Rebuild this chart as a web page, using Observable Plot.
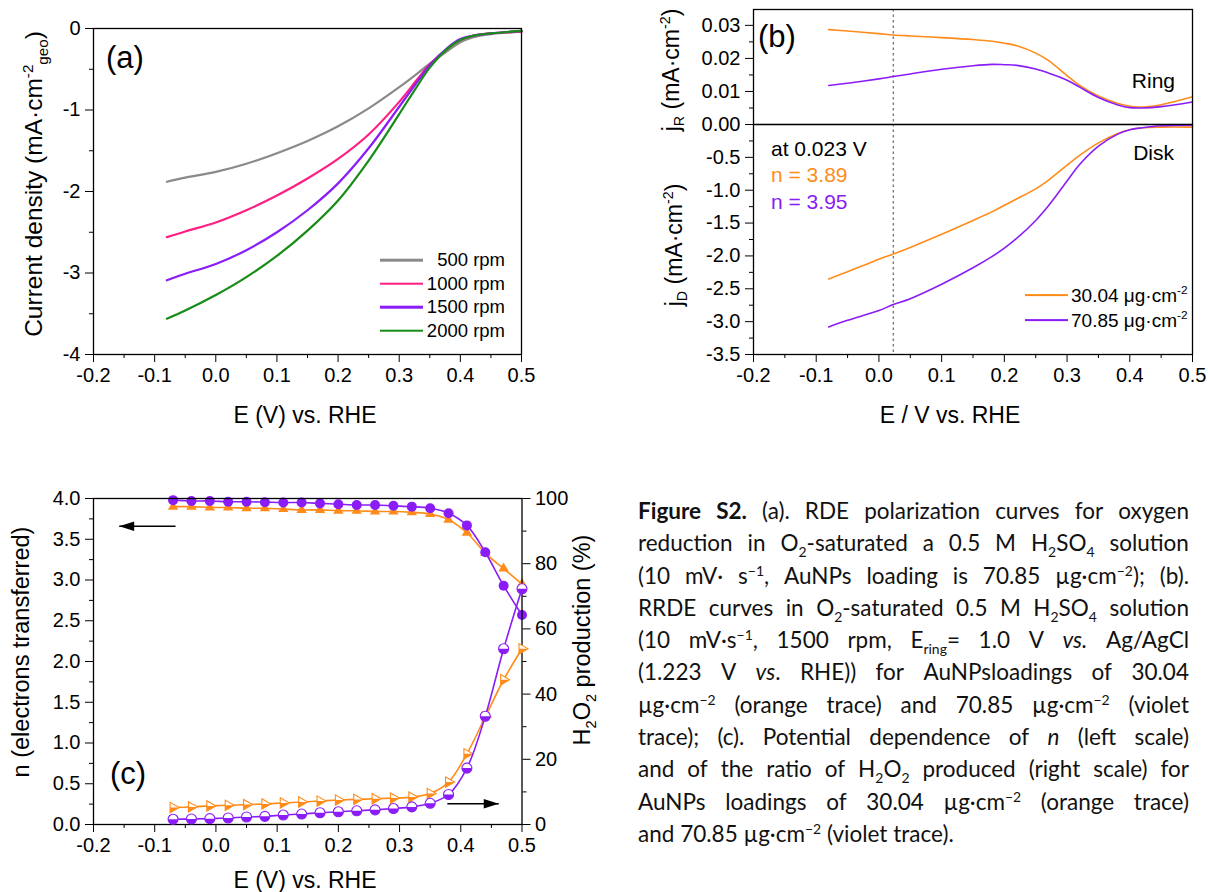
<!DOCTYPE html>
<html><head><meta charset="utf-8">
<script src="https://cdn.jsdelivr.net/npm/d3@7"></script>
<script src="https://cdn.jsdelivr.net/npm/@observablehq/plot@0.6"></script>
<style>
body{margin:0;background:#fff;}
#fig{position:relative;width:1208px;height:892px;overflow:hidden;font-family:"Liberation Sans",Arial,sans-serif;color:#000;}
#fig svg{position:absolute;overflow:visible;}
.abs{position:absolute;white-space:nowrap;line-height:1;}
.rot{transform:translate(-50%,-50%) rotate(-90deg);}
.ctr{transform:translate(-50%,-50%);}
.lc{transform:translate(0,-50%);}
.rc{transform:translate(-100%,-50%);}
#fig sup,#fig sub{font-size:0.62em;line-height:0;}
.cap{position:absolute;left:638px;top:495px;width:551px;font-family:Lato,"Open Sans",sans-serif;font-size:22.5px;color:#111;}
.cl{display:flex;justify-content:space-between;height:32.3px;line-height:32.3px;white-space:nowrap;}
.cl.last{justify-content:flex-start;}
.cl.last span{margin-right:0.26em;}
.cap sup,.cap sub{font-size:0.65em;line-height:0;}
</style></head>
<body><div id="fig"></div>
<script>
// ---------- data: panel (a) RDE curves, 70.85 µg/cm2 ----------
const E_A = [-0.08,-0.05,0,0.05,0.1,0.15,0.2,0.25,0.3,0.33,0.35,0.38,0.4,0.42,0.45,0.5];
const rpm500  = [-1.88,-1.83,-1.76,-1.66,-1.53,-1.38,-1.20,-0.98,-0.72,-0.55,-0.43,-0.27,-0.17,-0.11,-0.07,-0.04];
const rpm1000 = [-2.56,-2.49,-2.38,-2.23,-2.05,-1.84,-1.60,-1.30,-0.90,-0.62,-0.44,-0.24,-0.14,-0.09,-0.06,-0.04];
const rpm1500 = [-3.09,-3.01,-2.89,-2.72,-2.50,-2.23,-1.90,-1.47,-0.96,-0.65,-0.45,-0.23,-0.13,-0.09,-0.06,-0.03];
const rpm2000 = [-3.56,-3.46,-3.27,-3.05,-2.79,-2.48,-2.11,-1.62,-1.05,-0.70,-0.48,-0.24,-0.14,-0.09,-0.06,-0.03];
const seriesA = ["500 rpm","1000 rpm","1500 rpm","2000 rpm"];
const xTicks = [-0.2,-0.1,0,0.1,0.2,0.3,0.4,0.5];
const xMinor = [-0.15,-0.05,0.05,0.15,0.25,0.35,0.45];
const yTicksA = [-4,-3,-2,-1,0];
const yMinorA = [-3.5,-2.5,-1.5,-0.5];

// ---------- data: panel (b) RRDE ring / disk ----------
const E_B = [-0.08,-0.05,0,0.023,0.05,0.1,0.15,0.18,0.2,0.22,0.25,0.27,0.3,0.32,0.35,0.38,0.4,0.42,0.45,0.5];
const ring30 = [0.0287,0.0283,0.0275,0.0271,0.0268,0.0263,0.0257,0.0252,0.0246,0.0238,0.0216,0.0194,0.0148,0.0118,0.0086,0.0064,0.0055,0.0053,0.0060,0.0084];
const ring70 = [0.0118,0.0125,0.0138,0.0145,0.0153,0.0167,0.0178,0.0182,0.0181,0.0179,0.0168,0.0156,0.0134,0.0113,0.0082,0.0060,0.0051,0.0050,0.0054,0.0068];
const disk30 = [-2.35,-2.24,-2.05,-1.97,-1.87,-1.67,-1.46,-1.33,-1.23,-1.13,-0.98,-0.85,-0.62,-0.47,-0.28,-0.14,-0.08,-0.05,-0.04,-0.04];
const disk70 = [-3.08,-2.98,-2.83,-2.74,-2.65,-2.43,-2.18,-2.01,-1.88,-1.73,-1.46,-1.24,-0.86,-0.61,-0.33,-0.15,-0.08,-0.05,-0.02,-0.01];
const loadings = ["30.04","70.85"];
const markerE = [0.023];
const ringTicks = [0,0.01,0.02,0.03];
const ringMinor = [0.005,0.015,0.025];
const diskTicks = [-3.5,-3,-2.5,-2,-1.5,-1,-0.5];
const diskMinor = [-3.25,-2.75,-2.25,-1.75,-1.25,-0.75,-0.25];

// ---------- data: panel (c) n and H2O2 ----------
const E_C = [-0.07,-0.04,-0.01,0.02,0.05,0.08,0.11,0.14,0.17,0.20,0.23,0.26,0.29,0.32,0.35,0.38,0.41,0.44,0.47,0.50];
const n30 = [3.90,3.90,3.89,3.89,3.88,3.88,3.87,3.86,3.86,3.85,3.85,3.84,3.84,3.83,3.81,3.74,3.58,3.33,3.14,2.95];
const n70 = [3.98,3.97,3.97,3.96,3.96,3.955,3.95,3.95,3.94,3.93,3.92,3.92,3.91,3.90,3.88,3.82,3.67,3.34,2.93,2.57];
const h30 = [5.2,5.4,5.7,5.9,6.1,6.3,6.6,6.9,7.2,7.5,7.7,7.9,8.1,8.4,9.5,13.0,21.7,33.0,44.4,53.9];
const h70 = [1.6,1.7,1.8,2.0,2.3,2.5,2.9,3.2,3.6,3.9,4.2,4.5,4.9,5.4,6.5,9.2,17.3,33.2,53.9,72.3];
const nTicks = [0,0.5,1,1.5,2,2.5,3,3.5,4];
const nMinor = [0.25,0.75,1.25,1.75,2.25,2.75,3.25,3.75];
const hTicks = [0,20,40,60,80,100];
const hMinor = [10,30,50,70,90];
const arrowsC = [{x1:-0.066, x2:-0.158, y:3.66, angle:180}, {x1:0.378, x2:0.462, y:0.254, angle:0}];

// ---------- styles ----------
const GRAY="#8a8a8a", PINK="#ff1f84", VIOLET="#8a1cf7", GREEN="#178c17", ORANGE="#ff8c1a";
const FONT = '"Liberation Sans", Arial, sans-serif';
const fig = document.getElementById("fig");
const svgStyle = {fontFamily: FONT, fontSize: "20px", color: "#000", background: "transparent", overflow: "visible"};
const f1 = d => d.toFixed(1), f2 = d => d.toFixed(2), blank = () => "";

function place(node, left, top){ node.style.left = left+"px"; node.style.top = top+"px"; fig.appendChild(node); return node; }
function label(html, x, y, cls, css){ const d = document.createElement("div"); d.className = "abs " + (cls||""); d.innerHTML = html; if (css) d.style.cssText += css; d.style.left = x+"px"; d.style.top = y+"px"; fig.appendChild(d); return d; }

function xAxes(){ return [
  Plot.axisX({ticks: xTicks, tickSize: 8, tickPadding: 5, tickFormat: f1, fontSize: 20, label: null}),
  Plot.axisX({ticks: xMinor, tickSize: 4, tickFormat: blank, label: null})
];}

// ---------- panel (a) ----------
const tableA = seriesA.flatMap((s,i)=> E_A.map((e,k)=>({E:e, j:[rpm500,rpm1000,rpm1500,rpm2000][i][k], s})));
const plotA = Plot.plot({
  width: 560, height: 440, marginLeft: 93, marginRight: 39, marginTop: 28, marginBottom: 86,
  style: svgStyle,
  x: {domain: [-0.2, 0.5]}, y: {domain: [-4, 0]},
  color: {domain: seriesA, range: [GRAY, PINK, VIOLET, GREEN]},
  marks: [
    ...xAxes(),
    Plot.axisY({ticks: yTicksA, tickSize: 8, tickPadding: 5, tickFormat: d => String(d), fontSize: 20, label: null}),
    Plot.axisY({ticks: yMinorA, tickSize: 4, tickFormat: blank, label: null}),
    Plot.line(tableA, {x: "E", y: "j", stroke: "s", strokeWidth: 2.2, curve: "catmull-rom"}),
    Plot.frame({stroke: "#000", strokeWidth: 1.3})
  ]
});
place(plotA, 0, 0);

// ---------- panel (b) ----------
const tableRing = loadings.flatMap((s,i)=> E_B.map((e,k)=>({E:e, v:[ring30,ring70][i][k], s})));
const tableDisk = loadings.flatMap((s,i)=> E_B.map((e,k)=>({E:e, v:[disk30,disk70][i][k], s})));
const colorB = {domain: loadings, range: [ORANGE, VIOLET]};
const plotRing = Plot.plot({
  width: 568, height: 124, marginLeft: 113, marginRight: 16, marginTop: 9, marginBottom: 0,
  style: svgStyle,
  x: {domain: [-0.2, 0.5], axis: null}, y: {domain: [0, 0.0348]}, color: colorB,
  marks: [
    Plot.axisY({ticks: ringTicks, tickSize: 8, tickPadding: 5, tickFormat: f2, fontSize: 20, label: null}),
    Plot.axisY({ticks: ringMinor, tickSize: 4, tickFormat: blank, label: null}),
    Plot.ruleX(markerE, {stroke: "#777", strokeWidth: 1.4, strokeDasharray: "2.5,3"}),
    Plot.line(tableRing, {x: "E", y: "v", stroke: "s", strokeWidth: 1.6, curve: "catmull-rom"}),
    Plot.frame({stroke: "#000", strokeWidth: 1.3})
  ]
});
place(plotRing, 640, 0);
const plotDisk = Plot.plot({
  width: 568, height: 316, marginLeft: 113, marginRight: 16, marginTop: 0, marginBottom: 86,
  style: svgStyle,
  x: {domain: [-0.2, 0.5]}, y: {domain: [-3.5, 0]}, color: colorB,
  marks: [
    ...xAxes(),
    Plot.axisY({ticks: diskTicks, tickSize: 8, tickPadding: 5, tickFormat: f1, fontSize: 20, label: null}),
    Plot.axisY({ticks: diskMinor, tickSize: 4, tickFormat: blank, label: null}),
    Plot.ruleX(markerE, {stroke: "#777", strokeWidth: 1.4, strokeDasharray: "2.5,3"}),
    Plot.line(tableDisk, {x: "E", y: "v", stroke: "s", strokeWidth: 1.6, curve: "catmull-rom"}),
    Plot.frame({stroke: "#000", strokeWidth: 1.3})
  ]
});
place(plotDisk, 640, 124);

// ---------- panel (c) ----------
const halfCircle = {draw(ctx, size){ const r = Math.sqrt(size/Math.PI); ctx.moveTo(r,0); ctx.arc(0,0,r,0,Math.PI); ctx.closePath(); }};
const triUp = {draw(ctx, size){ const R = Math.sqrt(size/Math.PI)*1.3; ctx.moveTo(0,-R); ctx.lineTo(R*0.866,R*0.5); ctx.lineTo(-R*0.866,R*0.5); ctx.closePath(); }};
const triRight = {draw(ctx, size){ const R = Math.sqrt(size/Math.PI)*1.3; ctx.moveTo(R,0); ctx.lineTo(-R*0.5,R*0.866); ctx.lineTo(-R*0.5,-R*0.866); ctx.closePath(); }};
const triRightHalf = {draw(ctx, size){ const R = Math.sqrt(size/Math.PI)*1.3; ctx.moveTo(R,0); ctx.lineTo(-R*0.5,R*0.866); ctx.lineTo(-R*0.5,0); ctx.closePath(); }};
const arrowHead = {draw(ctx){ ctx.moveTo(0,0); ctx.lineTo(-15,-4.8); ctx.lineTo(-15,4.8); ctx.closePath(); }};
const tableN30 = E_C.map((e,k)=>({E:e, v:n30[k]}));
const tableN70 = E_C.map((e,k)=>({E:e, v:n70[k]}));
const tableH30 = E_C.map((e,k)=>({E:e, v:h30[k]}));
const tableH70 = E_C.map((e,k)=>({E:e, v:h70[k]}));
const geomC = {width: 620, height: 432, marginLeft: 93, marginRight: 98.5, marginTop: 38, marginBottom: 68};
const plotN = Plot.plot({
  ...geomC, style: svgStyle,
  x: {domain: [-0.2, 0.5]}, y: {domain: [0, 4]},
  marks: [
    ...xAxes(),
    Plot.axisY({ticks: nTicks, tickSize: 8, tickPadding: 5, tickFormat: f1, fontSize: 20, label: null}),
    Plot.axisY({ticks: nMinor, tickSize: 4, tickFormat: blank, label: null}),
    Plot.line(tableN30, {x: "E", y: "v", stroke: ORANGE, strokeWidth: 1.6, curve: "catmull-rom"}),
    Plot.dot(tableN30, {x: "E", y: "v", fill: ORANGE, r: 4.6, symbol: triUp}),
    Plot.line(tableN70, {x: "E", y: "v", stroke: VIOLET, strokeWidth: 1.6, curve: "catmull-rom"}),
    Plot.dot(tableN70, {x: "E", y: "v", fill: VIOLET, r: 5}),
    Plot.link(arrowsC, {x1: "x1", x2: "x2", y1: "y", y2: "y", stroke: "#000", strokeWidth: 1.6}),
    Plot.dot(arrowsC, {x: "x2", y: "y", symbol: arrowHead, fill: "#000", rotate: "angle", r: 5}),
    Plot.frame({stroke: "#000", strokeWidth: 1.3})
  ]
});
place(plotN, 0, 460);
const plotH = Plot.plot({
  ...geomC, style: svgStyle,
  x: {domain: [-0.2, 0.5], axis: null}, y: {domain: [0, 100]},
  marks: [
    Plot.axisY({ticks: hTicks, anchor: "right", tickSize: 8, tickPadding: 5, tickFormat: d => String(d), fontSize: 20, label: null}),
    Plot.axisY({ticks: hMinor, anchor: "right", tickSize: 4, tickFormat: blank, label: null}),
    Plot.line(tableH30, {x: "E", y: "v", stroke: ORANGE, strokeWidth: 1.6, curve: "catmull-rom"}),
    Plot.dot(tableH30, {x: "E", y: "v", fill: "#fff", stroke: ORANGE, strokeWidth: 1.1, r: 4.6, symbol: triRight}),
    Plot.dot(tableH30, {x: "E", y: "v", fill: ORANGE, r: 4.6, symbol: triRightHalf}),
    Plot.line(tableH70, {x: "E", y: "v", stroke: VIOLET, strokeWidth: 1.6, curve: "catmull-rom"}),
    Plot.dot(tableH70, {x: "E", y: "v", fill: "#fff", stroke: VIOLET, strokeWidth: 1.1, r: 5}),
    Plot.dot(tableH70, {x: "E", y: "v", fill: VIOLET, r: 5, symbol: halfCircle})
  ]
});
place(plotH, 0, 460);

// ---------- text labels ----------
label("(a)", 106, 57, "lc", "font-size:31px");
label("Current density (mA·cm<sup>-2</sup><sub>geo</sub>)", 34, 184, "rot", "font-size:24.5px");
label("E (V) vs. RHE", 305, 415, "ctr", "font-size:23px");
const legA = [GRAY, PINK, VIOLET, GREEN];
seriesA.forEach((s,i)=>{
  const y = 260 + i*23.6;
  const ln = document.createElement("div"); ln.className = "abs";
  ln.style.cssText = `width:43px;height:2.6px;background:${legA[i]};transform:translate(0,-50%)`;
  place(ln, 380, y);
  label(s, 505, y, "rc", "font-size:18.5px");
});

label("(b)", 758, 36, "lc", "font-size:31px");
label("j<sub>R</sub> (mA·cm<sup>-2</sup>)", 671, 70, "rot", "font-size:23px");
label("j<sub>D</sub> (mA·cm<sup>-2</sup>)", 674, 245, "rot", "font-size:23px");
label("E / V vs. RHE", 950, 415, "ctr", "font-size:23px");
label("Ring", 1175, 80, "rc", "font-size:21px");
label("Disk", 1174, 152, "rc", "font-size:21px");
label("at 0.023 V", 771, 148, "lc", "font-size:21px");
label("n = 3.89", 771, 174, "lc", `font-size:21px;color:${ORANGE}`);
label("n = 3.95", 771, 201, "lc", `font-size:21px;color:${VIOLET}`);
[ORANGE, VIOLET].forEach((c,i)=>{
  const y = 295 + i*25;
  const ln = document.createElement("div"); ln.className = "abs";
  ln.style.cssText = `width:43px;height:1.8px;background:${c};transform:translate(0,-50%)`;
  place(ln, 1025, y);
  label(loadings[i] + " μg·cm<sup>-2</sup>", 1071, y, "lc", "font-size:19px");
});

label("(c)", 110, 773, "lc", "font-size:31px");
label("n (electrons transferred)", 22, 652, "rot", "font-size:23.5px");
label("H<sub>2</sub>O<sub>2</sub> production (%)", 583, 640, "rot", "font-size:23.5px");
label("E (V) vs. RHE", 305, 880, "ctr", "font-size:23px");

// ---------- caption ----------
const capLines = [
  "<b>Figure</b> <b>S2.</b> (a). RDE polarization curves for oxygen",
  "reduction in O<sub>2</sub>-saturated a 0.5 M H<sub>2</sub>SO<sub>4</sub> solution",
  "(10 mV· s<sup>−1</sup>, AuNPs loading is 70.85 µg·cm<sup>−2</sup>); (b).",
  "RRDE curves in O<sub>2</sub>-saturated 0.5 M H<sub>2</sub>SO<sub>4</sub> solution",
  "(10 mV·s<sup>−1</sup>, 1500 rpm, E<sub>ring</sub>= 1.0 V <i>vs.</i> Ag/AgCl",
  "(1.223 V <i>vs</i>. RHE)) for AuNPsloadings of 30.04",
  "µg·cm<sup>−2</sup> (orange trace) and 70.85 µg·cm<sup>−2</sup> (violet",
  "trace); (c). Potential dependence of <i>n</i> (left scale)",
  "and of the ratio of H<sub>2</sub>O<sub>2</sub> produced (right scale) for",
  "AuNPs loadings of 30.04 µg·cm<sup>−2</sup> (orange trace)",
  "and 70.85 µg·cm<sup>−2</sup> (violet trace)."
];
const cap = document.createElement("div"); cap.className = "cap";
capLines.forEach((ln,i)=>{
  const row = document.createElement("div");
  row.className = "cl" + (i === capLines.length-1 ? " last" : "");
  ln.split(" ").forEach(w => { const s = document.createElement("span"); s.innerHTML = w; row.appendChild(s); });
  cap.appendChild(row);
});
fig.appendChild(cap);
</script>
</body></html>
